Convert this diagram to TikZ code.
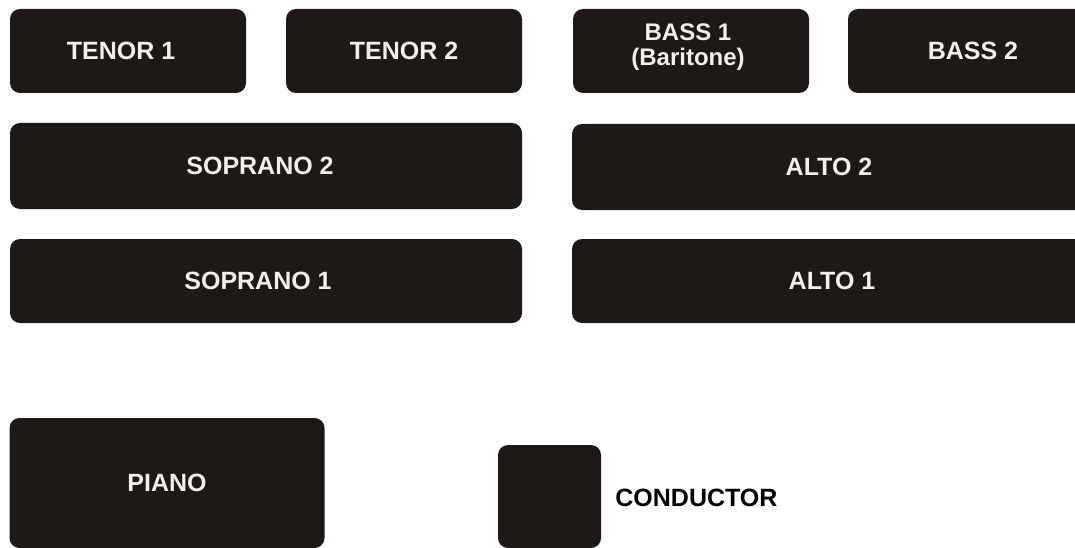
\documentclass[tikz,border=0pt]{standalone}
\usepackage{fontspec}
\setmainfont{Liberation Sans}
\usetikzlibrary{positioning}
\definecolor{pad}{HTML}{1E1816}
\definecolor{padtext}{HTML}{F2F0EE}

\begin{document}
\begin{tikzpicture}[
  x=1pt,y=-1pt,font=\bfseries\fontsize{25}{26}\selectfont,
  section/.style={fill=pad,rounded corners=10pt,inner sep=0pt,
                  text=padtext,align=center,minimum height=84pt},
  label/.style={text=black,anchor=west,inner sep=0pt}
]
\clip (0,0) rectangle (1075,548);

% Back row: tenors and basses.
\node[section,minimum width=236] (tenorA) at (128,51) {\hspace*{-14pt}TENOR 1};
\node[section,minimum width=236] (tenorB) at (404,51) {TENOR 2};
\node[section,minimum width=236] (bassA) at (691,51) {};
\node[text=padtext,align=center,font=\bfseries\fontsize{24}{25.5}\selectfont]
  (bassAtext) at (688,47) {BASS 1\\(Baritone)};
\node[section,minimum width=250] (bassB) at (973,51) {BASS 2};

% Middle and front rows; right-hand boxes run past the edge.
\node[section,minimum width=512,minimum height=86] (sopB) at (266,166) {\hspace*{-12pt}SOPRANO 2};
\node[section,minimum width=514,minimum height=86] (altoB) at (829,167) {ALTO 2};
\node[section,minimum width=512] (sopA) at (266,281) {\hspace*{-16pt}SOPRANO 1};
\node[section,minimum width=514] (altoA) at (829,281) {\hspace*{6pt}ALTO 1};

% Piano and conductor.
\node[section,minimum width=315,minimum height=130] (piano) at (167,483) {PIANO};
\node[section,minimum width=103,minimum height=103] (conductor) at (549.5,496.5) {};
\node[label,right=14pt of conductor,yshift=-1pt] (conductorlabel) {CONDUCTOR};

\end{tikzpicture}
\end{document}
